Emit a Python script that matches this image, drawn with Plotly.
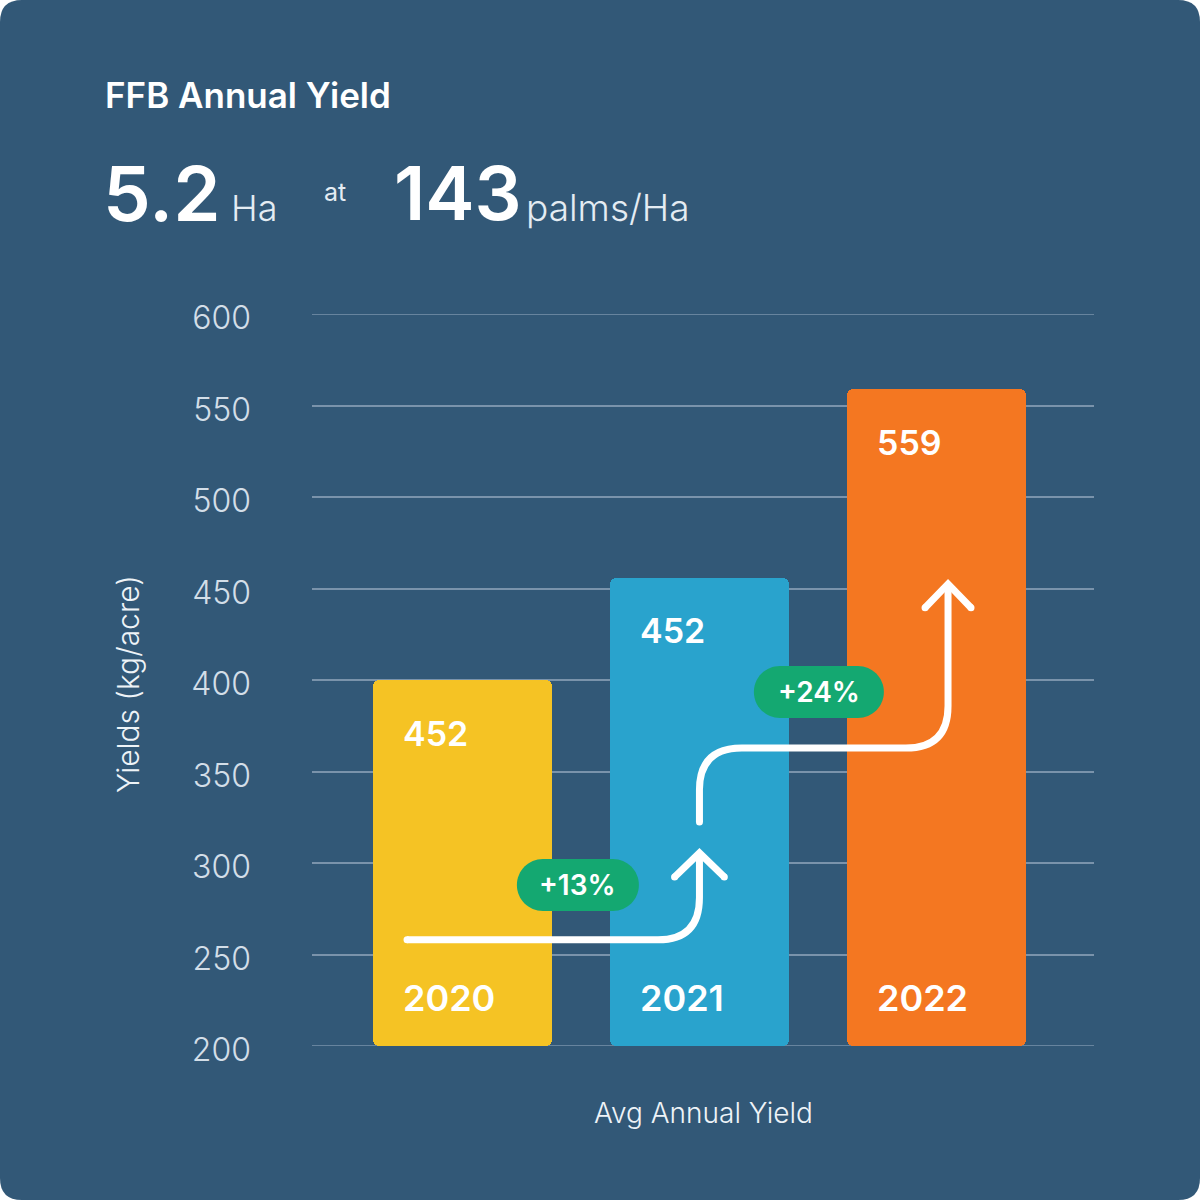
import plotly.graph_objects as go

# ---------------- data ----------------
years = ["2020", "2021", "2022"]
bar_values = [400, 456, 559]          # bar heights as drawn (kg/acre)
value_labels = ["452", "452", "559"]  # labels printed on bars
bar_colors = ["#F5C324", "#29A3CD", "#F47721"]
y_ticks = [200, 250, 300, 350, 400, 450, 500, 550, 600]
growth_labels = ["+13%", "+24%"]
growth_pos_x = [0.487, 1.504]          # badge centres (bar-index units)
growth_pos_y = [288, 393.5]            # badge centres (kg/acre)

# ---------------- geometry ----------------
W = H = 1200
L, R, T, B = 312, 106, 314, 154
PW = W - L - R
PH = H - T - B
FONT = "Inter"
BG = "#325877"
GRID = "#7A93AB"
BAR_W = 0.755


def px(x):
    return (x - L) / PW


def py(y):
    return (H - B - y) / PH


xs = list(range(len(years)))

fig = go.Figure()
fig.add_trace(go.Bar(
    x=xs, y=[v - 200 for v in bar_values], base=200, width=BAR_W,
    marker=dict(color=bar_colors, cornerradius=6, line=dict(width=0)),
    hoverinfo="skip", showlegend=False,
))

shapes = []
# rounded card background
x0, x1, y0, y1 = px(0), px(W), py(H), py(0)
rx, ry = 22 / PW, 22 / PH
bg_path = (f"M {x0+rx},{y1} L {x1-rx},{y1} Q {x1},{y1} {x1},{y1-ry} "
           f"L {x1},{y0+ry} Q {x1},{y0} {x1-rx},{y0} L {x0+rx},{y0} "
           f"Q {x0},{y0} {x0},{y0+ry} L {x0},{y1-ry} Q {x0},{y1} {x0+rx},{y1} Z")
shapes.append(dict(type="path", xref="paper", yref="paper", path=bg_path,
                   fillcolor=BG, line=dict(width=0), layer="below"))

# gridlines at the range ends (plotly skips them at the edges)
for yv in (y_ticks[0], y_ticks[-1]):
    shapes.append(dict(type="line", xref="paper", yref="y", x0=0, x1=1,
                       y0=yv, y1=yv, line=dict(color=GRID, width=1.6),
                       layer="below"))

# growth arrows (data coordinates)
arrow_line = dict(color="white", width=7)
arrow_paths = [
    "M -0.234,258 L 0.825,258 Q 1.0,258 1.0,281 L 1.0,305",
    "M 0.895,292.3 L 1.0,305.5 L 1.105,292.3",
    "M 1.0,322.4 L 1.0,340 Q 1.0,362.8 1.179,362.8 L 1.871,362.8 "
    "Q 2.049,362.8 2.049,385.8 L 2.049,452",
    "M 1.952,439.5 L 2.049,452.5 L 2.146,439.5",
]
for p in arrow_paths:
    shapes.append(dict(type="path", xref="x", yref="y", path=p,
                       line=arrow_line, layer="above"))

# round caps at line ends
for (cx, cy) in [(-0.234, 258), (1.0, 322.4), (0.895, 292.3), (1.105, 292.3),
                 (1.952, 439.5), (2.146, 439.5)]:
    shapes.append(dict(type="circle", xref="x", yref="y", xsizemode="pixel",
                       ysizemode="pixel", xanchor=cx, yanchor=cy,
                       x0=-3.5, x1=3.5, y0=-3.5, y1=3.5,
                       fillcolor="white", line=dict(width=0), layer="above"))


def pill(hw, hh):
    r = hh
    k = 0.552 * r
    return (f"M {-hw+r},{-hh} L {hw-r},{-hh} "
            f"C {hw-r+k},{-hh} {hw},{-k} {hw},0 "
            f"C {hw},{k} {hw-r+k},{hh} {hw-r},{hh} "
            f"L {-hw+r},{hh} "
            f"C {-hw+r-k},{hh} {-hw},{k} {-hw},0 "
            f"C {-hw},{-k} {-hw+r-k},{-hh} {-hw+r},{-hh} Z")


pill_w = [61, 65]
for gx, gy, hw in zip(growth_pos_x, growth_pos_y, pill_w):
    shapes.append(dict(type="path", xref="x", yref="y", xsizemode="pixel",
                       ysizemode="pixel", xanchor=gx, yanchor=gy,
                       path=pill(hw, 26), fillcolor="#14A871",
                       line=dict(width=0), layer="above"))

annotations = []
# bar labels
for i, (v, lab, yr) in enumerate(zip(bar_values, value_labels, years)):
    annotations.append(dict(x=i - BAR_W / 2, y=v, xref="x", yref="y",
                            xanchor="left", yanchor="middle", xshift=28,
                            yshift=-53, showarrow=False, text=lab,
                            font=dict(family=FONT, size=34, color="white",
                                      weight=600)))
    annotations.append(dict(x=i - BAR_W / 2, y=200, xref="x", yref="y",
                            xanchor="left", yanchor="middle", xshift=28,
                            yshift=48, showarrow=False, text=yr,
                            font=dict(family=FONT, size=36, color="white",
                                      weight=600)))
# growth labels
for gx, gy, g in zip(growth_pos_x, growth_pos_y, growth_labels):
    annotations.append(dict(x=gx, y=gy, xref="x", yref="y", showarrow=False,
                            text=g, xanchor="center", yanchor="middle",
                            font=dict(family=FONT, size=28, color="white",
                                      weight=600)))


# header
def head(text, x, y, size, weight="normal", color="white"):
    annotations.append(dict(x=px(x), y=py(y), xref="paper", yref="paper",
                            xanchor="left", yanchor="middle", showarrow=False,
                            text=text, font=dict(family=FONT, size=size,
                                                 color=color, weight=weight)))


head("FFB Annual Yield", 103, 95, 35, 600)
head("5.2", 101, 193, 76, 600)
head("Ha", 229, 208, 36, 300, "#E4ECF3")
head("at", 322, 192, 25, "normal", "#E4ECF3")
head("143", 392, 193, 74, 600)
head("palms/Ha", 524, 208, 37, 300, "#E4ECF3")

# axis titles
annotations.append(dict(x=px(128), y=py(684), xref="paper", yref="paper",
                        showarrow=False, text="Yields (kg/acre)", textangle=-90,
                        xanchor="center", yanchor="middle",
                        font=dict(family=FONT, size=30, color="#EEF3F7",
                                  weight=300)))
annotations.append(dict(x=0.5, y=py(1113), xref="paper", yref="paper",
                        showarrow=False, text="Avg Annual Yield",
                        xanchor="center", yanchor="middle",
                        font=dict(family=FONT, size=28, color="#EEF3F7",
                                  weight=300)))

fig.update_layout(
    width=W, height=H,
    margin=dict(l=L, r=R, t=T, b=B, pad=0),
    paper_bgcolor="white", plot_bgcolor="rgba(0,0,0,0)",
    shapes=shapes, annotations=annotations, showlegend=False,
    bargap=0,
    xaxis=dict(range=[-0.635, 2.665], showgrid=False, zeroline=False,
               showticklabels=False, showline=False, fixedrange=True),
    yaxis=dict(range=[200, 600], tickvals=y_ticks, showgrid=True,
               gridcolor=GRID, gridwidth=1.6, zeroline=False,
               showline=False, ticks="", ticklabelstandoff=60,
               ticklabelshift=4,
               tickfont=dict(family=FONT, size=32, color="#D3DEE8",
                             weight=300), fixedrange=True),
)

fig.write_html("out.html")
